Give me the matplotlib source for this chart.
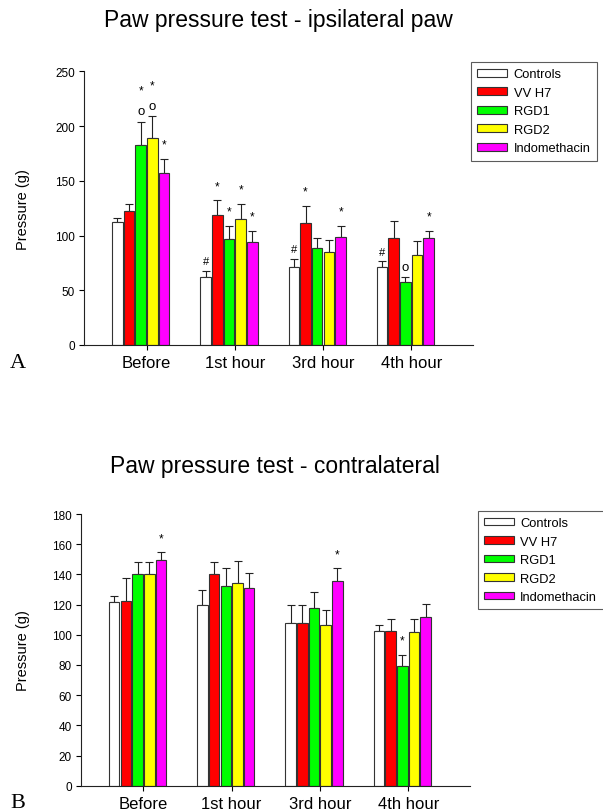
import matplotlib
matplotlib.use("Agg")
import matplotlib.pyplot as plt
import numpy as np

plt.rcParams['font.family'] = ['Liberation Sans', 'DejaVu Sans']

groups = ["Before", "1st hour", "3rd hour", "4th hour"]
series = ["Controls", "VV H7", "RGD1", "RGD2", "Indomethacin"]
colors = ["#ffffff", "#ff0000", "#00ff00", "#ffff00", "#ff00ff"]

# Panel A: ipsilateral paw
ipsi_controls = [112, 62, 71, 71]
ipsi_vvh7 = [122, 119, 111, 98]
ipsi_rgd1 = [183, 97, 89, 58]
ipsi_rgd2 = [189, 115, 85, 82]
ipsi_indo = [157, 94, 99, 98]
ipsi_err_controls = [4, 6, 8, 6]
ipsi_err_vvh7 = [7, 13, 16, 15]
ipsi_err_rgd1 = [21, 12, 9, 4]
ipsi_err_rgd2 = [20, 14, 11, 13]
ipsi_err_indo = [13, 10, 10, 6]
# significance marks (group, series) -> symbols from bottom to top
ipsi_marks = {(0, 2): "o*", (0, 3): "o*", (0, 4): "*",
              (1, 0): "#", (1, 1): "*", (1, 2): "*", (1, 3): "*", (1, 4): "*",
              (2, 0): "#", (2, 1): "*", (2, 4): "*",
              (3, 0): "#", (3, 2): "o", (3, 4): "*"}

# Panel B: contralateral paw
contra_controls = [121.5, 120, 107.5, 102.5]
contra_vvh7 = [122.5, 140, 107.5, 102.5]
contra_rgd1 = [140, 132, 118, 79.5]
contra_rgd2 = [140, 134, 106.5, 101.5]
contra_indo = [149.5, 131, 135.5, 112]
contra_err_controls = [4.5, 9.5, 12, 4]
contra_err_vvh7 = [15, 8, 12, 8]
contra_err_rgd1 = [8, 12.5, 10, 7]
contra_err_rgd2 = [8, 15, 10, 9]
contra_err_indo = [5, 10, 8.5, 8.5]
contra_marks = {(0, 4): "*", (2, 4): "*", (3, 2): "*"}

ipsi_means = [ipsi_controls, ipsi_vvh7, ipsi_rgd1, ipsi_rgd2, ipsi_indo]
ipsi_errs = [ipsi_err_controls, ipsi_err_vvh7, ipsi_err_rgd1, ipsi_err_rgd2, ipsi_err_indo]
contra_means = [contra_controls, contra_vvh7, contra_rgd1, contra_rgd2, contra_indo]
contra_errs = [contra_err_controls, contra_err_vvh7, contra_err_rgd1, contra_err_rgd2, contra_err_indo]

fig = plt.figure(figsize=(6.03, 8.12), dpi=100)

step = 0.1325
width = 0.12


def panel(rect, means, errs, marks, ylim, yticks, title, title_y, letter, letter_y, legend_xy, ylabel_x):
    ax = fig.add_axes(rect)
    x = np.arange(len(groups))
    handles = []
    for k, (m, e, c) in enumerate(zip(means, errs, colors)):
        xpos = x + (k - 2.5) * step
        b = ax.bar(xpos, m, width=width, color=c, edgecolor="#333333", linewidth=0.8,
                   label=series[k], zorder=2)
        handles.append(b)
        ax.errorbar(xpos, m, yerr=[np.zeros(len(e)), e], fmt="none", ecolor="#222222",
                    elinewidth=0.8, capsize=3.2, capthick=0.8, zorder=1)
        for g in range(len(groups)):
            sym = marks.get((g, k))
            if not sym:
                continue
            top = m[g] + e[g]
            for lev, s in enumerate(sym):
                if s == "*":
                    off = 6 + lev * 12
                    ax.annotate("*", (xpos[g], top), xytext=(0, off), textcoords="offset points",
                                ha="center", va="bottom", fontsize=8.5)
                elif s == "o":
                    ax.annotate("o", (xpos[g], top), xytext=(0, 3), textcoords="offset points",
                                ha="center", va="bottom", fontsize=9.5)
                else:
                    ax.annotate(s, (xpos[g], top), xytext=(0, 3), textcoords="offset points",
                                ha="center", va="bottom", fontsize=8)
    ax.set_xlim(-0.71, 3.70)
    ax.set_ylim(*ylim)
    ax.set_yticks(yticks)
    ax.set_xticks(x)
    ax.set_xticklabels(groups, fontsize=12)
    ax.tick_params(axis="y", labelsize=8.5, length=3.5, width=0.8, pad=3, direction="out")
    ax.tick_params(axis="x", length=3.5, width=0.8, pad=4, direction="out")
    for s in ["top", "right"]:
        ax.spines[s].set_visible(False)
    for s in ["left", "bottom"]:
        ax.spines[s].set_linewidth(0.8)
        ax.spines[s].set_color("#222222")
    ax.set_ylabel("Pressure (g)", fontsize=10.5)
    ax.yaxis.set_label_coords(ylabel_x, 0.5)
    cx = rect[0] + rect[2] / 2
    fig.text(cx, title_y, title, ha="center", va="center", fontsize=16.5)
    fig.text(10 / 603, letter_y, letter, ha="left", va="baseline", fontsize=16,
             family=["Liberation Serif", "DejaVu Serif"])
    leg = fig.legend(handles=handles, loc="upper left", bbox_to_anchor=legend_xy,
                     bbox_transform=fig.transFigure, fontsize=9.3, frameon=True,
                     fancybox=False, shadow=False, handlelength=2.3, handleheight=0.55,
                     handletextpad=0.5, labelspacing=0.5, borderpad=0.5, borderaxespad=0)
    leg.get_frame().set_edgecolor("#333333")
    leg.get_frame().set_linewidth(0.8)
    return ax


panel([84 / 603, 1 - 346 / 812, 389 / 603, (346 - 72.3) / 812],
      ipsi_means, ipsi_errs, ipsi_marks, (0, 250), [0, 50, 100, 150, 200, 250],
      "Paw pressure test - ipsilateral paw", 1 - 21 / 812, "A", 1 - 368 / 812,
      (471 / 603, 1 - 63 / 812), -0.139)

panel([80.7 / 603, 1 - 786.7 / 812, 389.3 / 603, (786.7 - 515) / 812],
      contra_means, contra_errs, contra_marks, (0, 180), list(range(0, 181, 20)),
      "Paw pressure test - contralateral", 1 - 467 / 812, "B", 1 - 808 / 812,
      (477.7 / 603, 1 - 511.7 / 812), -0.130)

fig.savefig("out.png", dpi=100)
